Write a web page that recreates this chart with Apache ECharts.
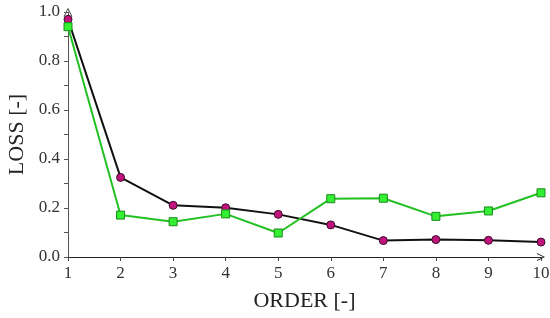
<!DOCTYPE html>
<html>
<head>
<meta charset="utf-8">
<script src="https://cdn.jsdelivr.net/npm/echarts@6/dist/echarts.min.js"></script>
<style>
html,body{margin:0;padding:0;background:#fff;}
#chart{width:550px;height:318px;}
</style>
</head>
<body>
<div id="chart"></div>
<script>
var order = [1, 2, 3, 4, 5, 6, 7, 8, 9, 10];
var lossBlack = [0.97, 0.325, 0.211, 0.201, 0.174, 0.131, 0.067, 0.071, 0.068, 0.061];
var lossGreen = [0.94, 0.171, 0.144, 0.176, 0.098, 0.238, 0.240, 0.166, 0.188, 0.262];

function pairs(ys) {
    return order.map(function (x, i) { return [x, ys[i]]; });
}

var chart = echarts.init(document.getElementById('chart'));
// open chevron for axis ends
var chevron = 'path://M0,10 L5,0 L10,10 L8.8,10 L5,2.4 L1.2,10 Z';
var font = 'Liberation Serif';

var option = {
    animation: false,
    grid: {left: 68, right: 9, top: 12, bottom: 61, outerBoundsMode: 'none', containLabel: false},
    xAxis: {
        type: 'value',
        min: 1,
        max: 10,
        interval: 1,
        name: 'ORDER [-]',
        nameLocation: 'middle',
        nameGap: 33,
        nameTextStyle: {fontFamily: font, fontSize: 22, color: '#222'},
        axisLine: {
            lineStyle: {color: '#222', width: 1.2},
            symbol: ['none', chevron],
            symbolSize: [10, 8]
        },
        axisTick: {show: true, length: 4, inside: false, lineStyle: {color: '#444'}},
        axisLabel: {fontFamily: font, fontSize: 17, color: '#333', margin: 8},
        splitLine: {show: false}
    },
    yAxis: {
        type: 'value',
        min: 0,
        max: 1,
        interval: 0.2,
        name: 'LOSS [-]',
        nameLocation: 'middle',
        nameGap: 40,
        nameRotate: 90,
        nameTextStyle: {fontFamily: font, fontSize: 22, color: '#222'},
        axisLine: {
            show: true,
            lineStyle: {color: '#555', width: 1},
            symbol: ['none', chevron],
            symbolSize: [10, 9]
        },
        axisTick: {show: true, length: 4, lineStyle: {color: '#555'}},
        minorTick: {show: true, splitNumber: 2, length: 4, lineStyle: {color: '#555'}},
        axisLabel: {
            fontFamily: font, fontSize: 17, color: '#333', margin: 8,
            formatter: function (v) { return v.toFixed(1); }
        },
        splitLine: {show: false}
    },
    series: [
        {
            name: 'black',
            type: 'line',
            data: pairs(lossBlack),
            symbol: 'circle',
            symbolSize: 8,
            lineStyle: {color: '#111', width: 2},
            itemStyle: {color: '#c0147c', borderColor: '#3a0a2a', borderWidth: 1}
        },
        {
            name: 'green',
            type: 'line',
            data: pairs(lossGreen),
            symbol: 'rect',
            symbolSize: 8,
            lineStyle: {color: '#22c022', width: 2},
            itemStyle: {color: '#33f033', borderColor: '#1a8a1a', borderWidth: 1}
        }
    ]
};

chart.setOption(option);
</script>
</body>
</html>
